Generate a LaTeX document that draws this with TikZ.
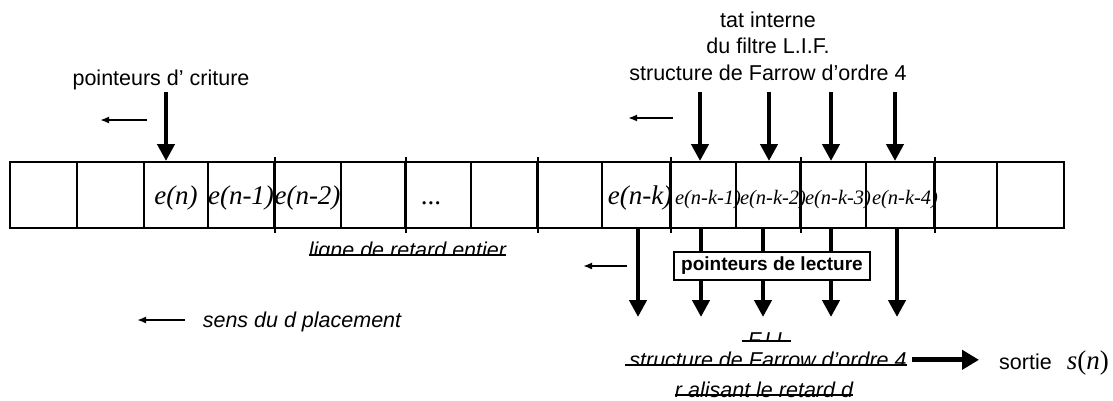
\documentclass[tikz,border=0pt]{standalone}
\usepackage{fontspec}
\setmainfont{Liberation Sans}
\newfontfamily\tms{Liberation Serif}
\usetikzlibrary{arrows.meta,positioning}

\begin{document}
\begin{tikzpicture}[x=1pt,y=-1pt,
  cell/.style={draw, line width=2pt, minimum height=66pt, inner sep=0pt},
  cellt/.style={anchor=base, inner sep=0pt, font=\tms\itshape\fontsize{27}{30}\selectfont},
  cellts/.style={anchor=base, inner sep=0pt, font=\tms\itshape\fontsize{20.5}{24}\selectfont},
  txt/.style={anchor=base, inner sep=0pt, font=\fontsize{21.5}{26.5}\selectfont},
  ital/.style={txt, font=\fontsize{21.5}{26.5}\selectfont\itshape},
  bigarr/.style={line width=4.5pt, -{Triangle[length=17pt,width=17pt]}},
  smallarr/.style={line width=1.8pt, -{Latex[length=9pt,width=7pt]}},
  uline/.style={line width=2pt}]

\useasboundingbox (0,0) rectangle (1113,400);

\foreach \xa/\xb [count=\i] in {9.6/77,77/144,144/208,208/274,274/341,341/405,405/471,471/537,537/602,602/670,670/736,736/800,800/866,866/934,934/997,997/1064}
  \node[cell, minimum width={(\xb-\xa)*1pt}] (cell_\i) at ({(\xa+\xb)/2},195) {};
\foreach \i in {4,6,8,10,12,14}
  \draw[line width=2pt] ([yshift=4pt]cell_\i.north east) -- ([yshift=-4pt]cell_\i.south east);

\foreach \i/\t in {3/e(n),4/e(n-1),5/e(n-2)}
  \node[cellt] (lab_\i) at ([yshift=-9pt]cell_\i.center) {\t};
\node[cellt, font=\tms\fontsize{27}{30}\selectfont] (lab_7) at ([xshift=-7pt,yshift=-9pt]cell_7.center) {...};
\node[cellt] (lab_10) at ([xshift=4pt,yshift=-9pt]cell_10.center) {e(n-k)};
\foreach \i/\t in {11/e(n-k-1),12/e(n-k-2),13/e(n-k-3),14/e(n-k-4)}
  \node[cellts] (lab_\i) at ([xshift=5pt,yshift=-9pt]cell_\i.center) {\t};

\node[txt] (write_lab) at (161,85) {pointeurs d’ criture};
\coordinate (write_top) at (166,92);
\draw[bigarr] (write_top) -- (write_top |- cell_3.north);
\coordinate (wl_a) at (147,120);
\coordinate (wl_b) at (100,120);
\draw[smallarr] (wl_a) -- (wl_b);

\node[txt] (state_1) at (768,27) {tat interne};
\node[txt] (state_2) at (768,53.5) {du filtre L.I.F.};
\node[txt] (state_3) at (768,80) {structure de Farrow d’ordre 4};
\foreach \x [count=\i] in {700,769,831,895} {
  \coordinate (read_\i) at (\x,92);
  \draw[bigarr] (read_\i) -- (read_\i |- cell_11.north);
}
\coordinate (rl_a) at (673,118);
\coordinate (rl_b) at (628,118);
\draw[smallarr] (rl_a) -- (rl_b);

\foreach \x [count=\i] in {638,701,763,831,897} {
  \coordinate (out_\i) at (\x,317);
  \draw[bigarr] (out_\i |- cell_10.south) -- (out_\i);
}
\node[draw, line width=2pt, fill=white, minimum width=196pt, minimum height=28pt, inner sep=0pt,
  font=\bfseries\fontsize{19}{22}\selectfont] (lect_box) at (772,266) {pointeurs de lecture};
\coordinate (ol_a) at (627,266);
\coordinate (ol_b) at (583,266);
\draw[smallarr] (ol_a) -- (ol_b);

\begin{scope}
  \clip (280,225) rectangle (540,255);
  \node[ital] (delay_lab) at (407.5,257.5) {ligne de retard entier};
\end{scope}
\draw[uline] ([yshift=2.5pt]delay_lab.base west) -- ([yshift=2.5pt]delay_lab.base east);

\node[ital] (move_lab) at (302,327) {sens du d placement};
\coordinate (ml_a) at (185,320);
\coordinate (ml_b) at (137,320);
\draw[smallarr] (ml_a) -- (ml_b);

\begin{scope}
  \clip (700,320) rectangle (830,341);
  \node[ital] (fii_lab) at (768,347) {F.I.I.};
\end{scope}
\draw[uline] ([xshift=-6pt,yshift=6pt]fii_lab.base west) -- ([xshift=3pt,yshift=6pt]fii_lab.base east);
\begin{scope}
  \clip (600,342) rectangle (930,365);
  \node[ital] (farrow_lab) at (768,367.5) {structure de Farrow d’ordre 4};
\end{scope}
\draw[uline] ([xshift=-4pt,yshift=2.5pt]farrow_lab.base west) -- ([yshift=2.5pt]farrow_lab.base east);
\node[ital] (real_lab) at (764,397.5) {r alisant le retard d};
\draw[uline] ([yshift=2.5pt]real_lab.base west) -- ([yshift=2.5pt]real_lab.base east);

\node[txt, anchor=base west] (sortie_lab) at (999,369) {sortie\hspace{15pt}{\tms\fontsize{27}{30}\selectfont\itshape s\upshape(\itshape n\upshape)}};
\draw[line width=5pt, -{Triangle[length=17pt,width=19pt]}] ([xshift=5pt]farrow_lab.east) -- ([xshift=-20pt]farrow_lab.east -| sortie_lab.west);

\end{tikzpicture}
\end{document}
